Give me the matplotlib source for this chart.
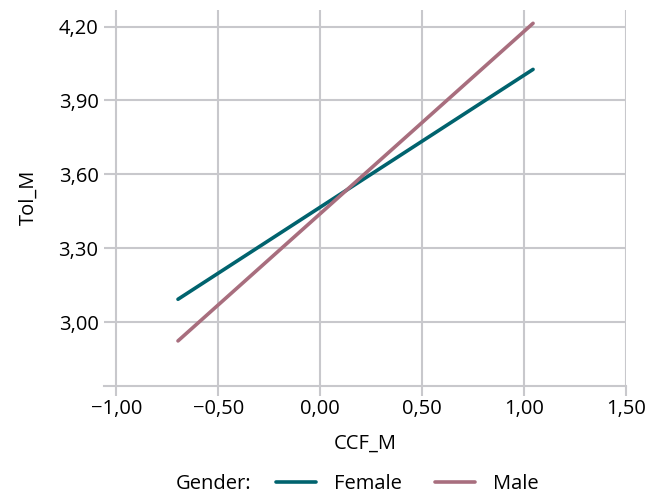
import matplotlib
matplotlib.use("Agg")
import matplotlib.pyplot as plt
from matplotlib.lines import Line2D

plt.rcParams['font.family'] = ['Open Sans', 'DejaVu Sans']

groups = ["Female", "Male"]
x_ends = [-0.698, 1.044]
female_y = [3.093, 4.026]
male_y = [2.924, 4.213]
colors = {"Female": "#00636e", "Male": "#a86e7e"}
x_ticks = [-1.00, -0.50, 0.00, 0.50, 1.00, 1.50]
y_ticks = [3.00, 3.30, 3.60, 3.90, 4.20]

def fmt(v):
    s = f"{v:.2f}".replace(".", ",")
    if v < 0:
        s = "\u2212" + s[1:]
    return s

FS = 14.5
W, H = 659, 498
fig = plt.figure(figsize=(W/100, H/100), dpi=100)
left, right, top, bottom = 104, 626, 10, 385.5
ax = fig.add_axes([left/W, 1-bottom/H, (right-left)/W, (bottom-top)/H])

ax.set_xlim(-1.061, 1.5)
ax.set_ylim(2.743, 4.267)

grid_c = "#c8c8cc"
for sp in ["top", "right", "left"]:
    ax.spines[sp].set_visible(False)
ax.spines["bottom"].set_color(grid_c)
ax.spines["bottom"].set_linewidth(1.5)
ax.grid(True, color=grid_c, linewidth=1.5)
ax.set_axisbelow(True)

ax.set_xticks(x_ticks)
ax.set_xticklabels([fmt(v) for v in x_ticks], fontsize=FS)
ax.set_yticks(y_ticks)
ax.set_yticklabels([fmt(v) for v in y_ticks], fontsize=FS)
ax.tick_params(axis="x", color=grid_c, width=1.5, length=7, pad=3)
ax.tick_params(axis="y", length=0, pad=4)

ax.plot(x_ends, female_y, color=colors["Female"], lw=2.6, solid_capstyle="round", label="Female")
ax.plot(x_ends, male_y, color=colors["Male"], lw=2.6, solid_capstyle="round", label="Male")

ax.set_xlabel("CCF_M", fontsize=FS, labelpad=10)
ax.set_ylabel("Tol_M", fontsize=FS, labelpad=14)

fig.text(176/W, 1-484/H, "Gender:", fontsize=FS, va="center", ha="left")
handles = [Line2D([], [], color=colors[g], lw=2.6, solid_capstyle="round") for g in groups]
fig.legend(handles, groups, loc="center left", bbox_to_anchor=(276/W, 1-484/H),
           ncol=2, frameon=False, fontsize=FS, handlelength=2.0,
           columnspacing=1.6, handletextpad=0.9, borderaxespad=0, borderpad=0)

fig.savefig("out.png", dpi=100)
